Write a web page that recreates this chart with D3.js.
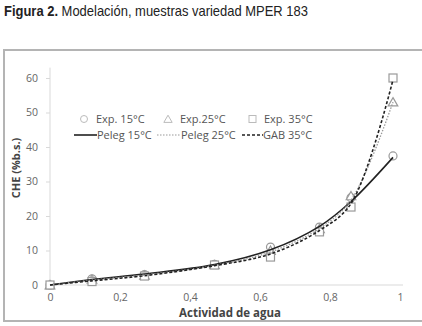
<!DOCTYPE html>
<html>
<head>
<meta charset="utf-8">
<script src="https://cdn.jsdelivr.net/npm/d3@7"></script>
<style>
  html, body { margin: 0; padding: 0; background: #fff; }
  svg { display: block; }
</style>
</head>
<body>
<div id="chart"></div>
<script>
// water activity (x) and moisture content CHE (%b.s.)
const aw = [0, 0.12, 0.27, 0.47, 0.63, 0.77, 0.86, 0.98]
const exp15 = [0, 1.8, 3.0, 6.0, 11.0, 16.8, 25.3, 37.4]
const exp25 = [0, 1.6, 2.8, 5.8, 10.0, 16.3, 25.8, 53.0]
const exp35 = [0, 1.0, 2.6, 5.8, 8.1, 15.4, 22.6, 60.0]
const peleg15 = [0, 1.6, 3.2, 5.9, 10.2, 17.0, 24.2, 37.0]
const peleg25 = [0, 1.4, 2.9, 5.7, 9.6, 16.4, 24.6, 53.0]
const gab35 = [0, 1.2, 2.7, 5.6, 9.0, 15.8, 23.6, 59.5]
const xTicks = [0, 0.2, 0.4, 0.6, 0.8, 1]
const yTicks = [0, 10, 20, 30, 40, 50, 60]

const width = 422, height = 326
const svg = d3.select('#chart').append('svg')
  .attr('width', width).attr('height', height)

// title, squeezed to look like the condensed face of the original
const title = svg.append('text')
  .attr('x', 0).attr('y', 0)
  .attr('font-family', '"Liberation Sans Narrow", "Arial Narrow", "Liberation Sans", sans-serif')
  .attr('font-size', '14.5px').attr('fill', '#222')
title.append('tspan').attr('font-weight', 'bold').text('Figura 2.')
title.append('tspan').text(' Modelación, muestras variedad MPER 183')
const tw = title.node().getComputedTextLength()
title.attr('transform', `translate(4,15.5) scale(${304 / tw},1)`)

// frame (right side runs off the page)
svg.append('path')
  .attr('d', 'M424,50 H4 V321 H424')
  .attr('fill', 'none').attr('stroke', '#b4b4b4').attr('stroke-width', 2)

const x = d3.scaleLinear().domain([0, 1]).range([50, 400])
const y = d3.scaleLinear().domain([0, 60]).range([285, 78])

const font = '"Open Sans", "Liberation Sans", sans-serif'

// axes
const xAxis = svg.append('g')
  .attr('transform', `translate(0,${y(0)})`)
  .call(d3.axisBottom(x).tickValues(xTicks).tickSize(0).tickPadding(9)
    .tickFormat(d => d3.format('.1f')(d).replace('.0', '').replace('.', ',')))
xAxis.select('.domain').attr('stroke', '#d9d9d9').attr('d', `M${x(0)},0H${x(1) + 3}`)

const yAxis = svg.append('g')
  .attr('transform', `translate(${x(0)},0)`)
  .call(d3.axisLeft(y).tickValues(yTicks).tickSize(4).tickPadding(8))
yAxis.select('.domain').attr('stroke', '#d9d9d9').attr('d', `M0,${y(0)}V${y(63)}`)
yAxis.selectAll('.tick line').attr('stroke', '#d9d9d9')

svg.selectAll('.tick text')
  .attr('font-family', font).attr('font-size', '10.5px').attr('fill', '#666')

svg.append('text')
  .attr('x', 230).attr('y', 317)
  .attr('text-anchor', 'middle')
  .attr('font-family', font).attr('font-size', '11.5px').attr('font-weight', 'bold')
  .attr('fill', '#444')
  .text('Actividad de agua')

svg.append('text')
  .attr('transform', 'translate(20,168) rotate(-90)')
  .attr('text-anchor', 'middle')
  .attr('font-family', font).attr('font-size', '11px').attr('font-weight', 'bold')
  .attr('fill', '#444')
  .text('CHE (%b.s.)')

// model curves
const line = d3.line()
  .x((d, i) => x(aw[i]))
  .y(d => y(d))
  .curve(d3.curveCatmullRom.alpha(0.5))

const markerStroke = '#9a9a9a'

// markers
svg.append('g').selectAll('circle').data(exp15).join('circle')
  .attr('cx', (d, i) => x(aw[i])).attr('cy', d => y(d)).attr('r', 4)
  .attr('fill', '#fff').attr('stroke', markerStroke).attr('stroke-width', 1.2)

const tri = d3.symbol().type(d3.symbolTriangle).size(40)
svg.append('g').selectAll('path').data(exp25).join('path')
  .attr('transform', (d, i) => `translate(${x(aw[i])},${y(d) + 1})`)
  .attr('d', tri)
  .attr('fill', '#fff').attr('stroke', markerStroke).attr('stroke-width', 1.2)

svg.append('g').selectAll('rect').data(exp35).join('rect')
  .attr('x', (d, i) => x(aw[i]) - 4).attr('y', d => y(d) - 4)
  .attr('width', 8).attr('height', 8)
  .attr('fill', '#fff').attr('stroke', markerStroke).attr('stroke-width', 1.2)

svg.append('path').datum(peleg15).attr('d', line)
  .attr('fill', 'none').attr('stroke', '#222').attr('stroke-width', 1.6)
svg.append('path').datum(peleg25).attr('d', line)
  .attr('fill', 'none').attr('stroke', '#999').attr('stroke-width', 1.3)
  .attr('stroke-dasharray', '1.5,1.5')
svg.append('path').datum(gab35).attr('d', line)
  .attr('fill', 'none').attr('stroke', '#222').attr('stroke-width', 1.6)
  .attr('stroke-dasharray', '3,2')

// legend
const legend = svg.append('g')
  .attr('font-family', font).attr('font-size', '11px').attr('fill', '#555')

const row1 = 119, row2 = 135
legend.append('circle').attr('cx', 84).attr('cy', row1).attr('r', 3.5)
  .attr('fill', '#fff').attr('stroke', '#bbb')
legend.append('text').attr('x', 96).attr('y', row1 + 4).text('Exp. 15°C')
legend.append('path').attr('transform', `translate(168,${row1 + 1})`)
  .attr('d', d3.symbol().type(d3.symbolTriangle).size(30))
  .attr('fill', '#fff').attr('stroke', '#bbb')
legend.append('text').attr('x', 180).attr('y', row1 + 4).text('Exp.25°C')
legend.append('rect').attr('x', 249).attr('y', row1 - 3.5).attr('width', 7).attr('height', 7)
  .attr('fill', '#fff').attr('stroke', '#bbb')
legend.append('text').attr('x', 264).attr('y', row1 + 4).text('Exp. 35°C')

legend.append('line').attr('x1', 74).attr('x2', 97).attr('y1', row2).attr('y2', row2)
  .attr('stroke', '#222').attr('stroke-width', 1.6)
legend.append('text').attr('x', 97).attr('y', row2 + 4).text('Peleg 15°C')
legend.append('line').attr('x1', 157).attr('x2', 180).attr('y1', row2).attr('y2', row2)
  .attr('stroke', '#999').attr('stroke-width', 1.2).attr('stroke-dasharray', '1.5,1.5')
legend.append('text').attr('x', 181).attr('y', row2 + 4).text('Peleg 25°C')
legend.append('line').attr('x1', 242).attr('x2', 263).attr('y1', row2).attr('y2', row2)
  .attr('stroke', '#222').attr('stroke-width', 1.6).attr('stroke-dasharray', '3,2')
legend.append('text').attr('x', 263).attr('y', row2 + 4).text('GAB 35°C')
</script>
</body>
</html>
